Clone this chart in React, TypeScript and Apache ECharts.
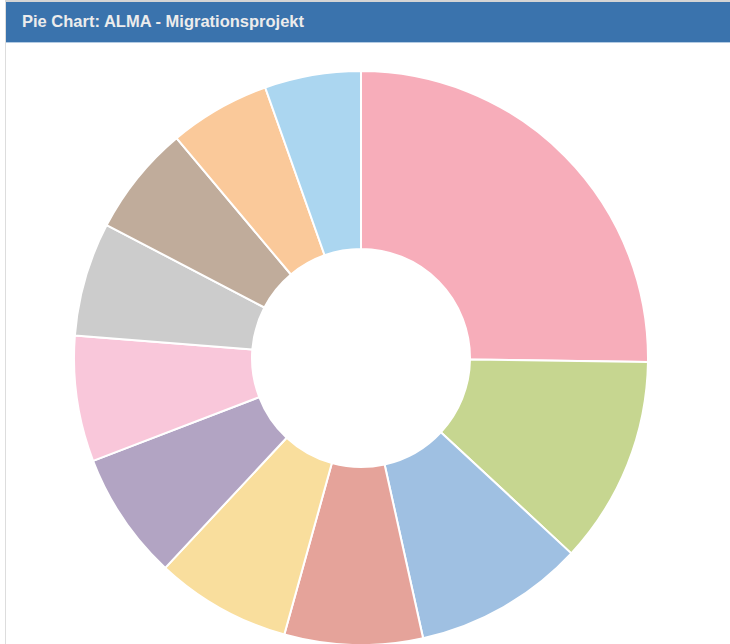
import React, { useEffect, useRef } from "react";
import * as echarts from "echarts";

const TITLE = "Pie Chart: ALMA - Migrationsprojekt";
const categories = [
  "Kategorie A", "Kategorie B", "Kategorie C", "Kategorie D", "Kategorie E",
  "Kategorie F", "Kategorie G", "Kategorie H", "Kategorie I", "Kategorie J", "Kategorie K",
];
const values = [90.8, 42.1, 34.6, 28, 27.5, 26, 25.5, 23.1, 22.4, 20.5, 19.5];
const colors = [
  "#f7adba", "#c6d690", "#9fc0e2", "#e5a39a", "#f9de9d", "#b2a4c3",
  "#f9c7da", "#cccccc", "#c0ac9b", "#fac99a", "#abd6f0",
];

export default function App() {
  const ref = useRef<HTMLDivElement>(null);
  useEffect(() => {
    if (!ref.current) return;
    const chart = echarts.init(ref.current, undefined, { renderer: "svg" });
    chart.setOption({
      animation: false,
      backgroundColor: "#ffffff",
      title: {
        text: TITLE,
        left: 22,
        top: 12,
        padding: 0,
        textStyle: { color: "#ececec", fontSize: 16.5, fontWeight: "bold", fontFamily: "Liberation Sans, Arial, sans-serif" },
      },
      graphic: [
        { type: "rect", shape: { x: 5, y: 0, width: 725, height: 2 }, style: { fill: "#d4d4d4" }, z: 0 },
        { type: "rect", shape: { x: 5, y: 2, width: 1, height: 642 }, style: { fill: "#dddddd" }, z: 0 },
        { type: "rect", shape: { x: 6, y: 2, width: 724, height: 40 }, style: { fill: "#3a73ad" }, z: 0 },
        { type: "rect", shape: { x: 6, y: 42, width: 724, height: 1 }, style: { fill: "#b3cbe3" }, z: 0 },
      ],
      series: [
        {
          type: "pie",
          center: [361, 358],
          radius: [109, 287],
          startAngle: 90,
          clockwise: true,
          label: { show: false },
          labelLine: { show: false },
          itemStyle: { borderColor: "#ffffff", borderWidth: 2 },
          data: categories.map((name, i) => ({ name, value: values[i], itemStyle: { color: colors[i] } })),
        },
      ],
    });
    return () => chart.dispose();
  }, []);
  return <div ref={ref} style={{ position: "fixed", left: 0, top: 0, width: 730, height: 644 }} />;
}
